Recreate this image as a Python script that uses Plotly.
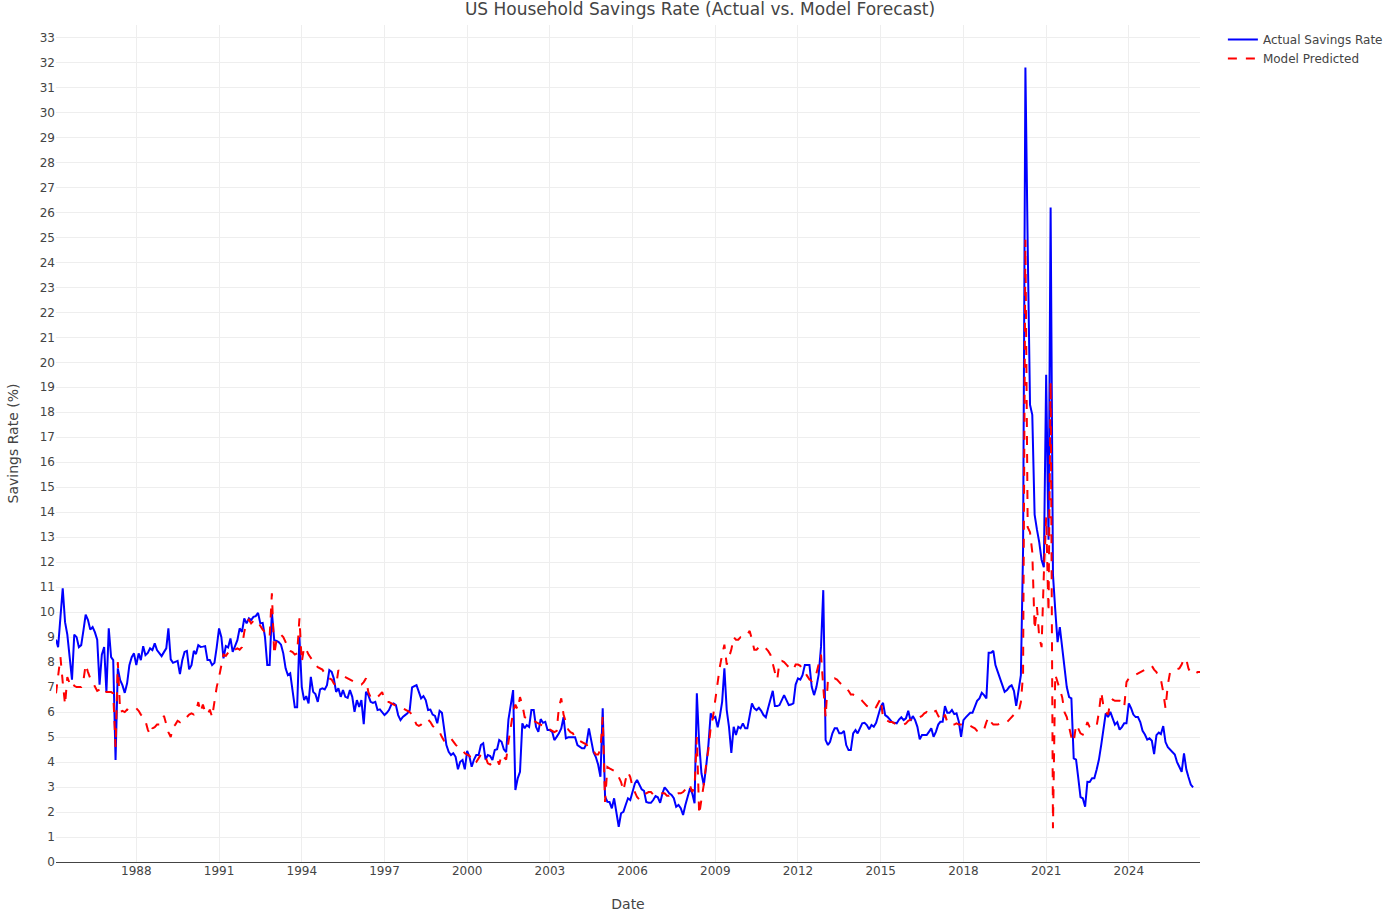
import plotly.graph_objects as go
import pandas as pd

# monthly values, starting Feb 1985
start_month = "1985-02-01"

actual_rate = [
    8.9, 8.6, 9.8, 10.95, 9.6, 9.1, 8.2, 7.3, 9.1, 9.0, 8.6, 8.68,
    9.3, 9.9, 9.68, 9.3, 9.4, 9.2, 8.9, 7.1, 8.3, 8.6, 6.8, 9.35,
    8.2, 8.08, 4.08, 7.75, 7.28, 7.08, 6.77, 7.15, 7.88, 8.2, 8.35, 7.88,
    8.35, 8.08, 8.64, 8.28, 8.37, 8.55, 8.48, 8.75, 8.48, 8.35, 8.24, 8.4,
    8.55, 9.35, 8.11, 7.97, 8.0, 8.05, 7.52, 8.08, 8.41, 8.45, 7.71, 7.88,
    8.45, 8.32, 8.68, 8.61, 8.62, 8.64, 8.08, 8.08, 7.88, 7.97, 8.59, 9.35,
    9.0, 8.15, 8.64, 8.59, 8.95, 8.41, 8.64, 8.88, 9.35, 9.21, 9.75, 9.55,
    9.75, 9.68, 9.81, 9.84, 9.97, 9.55, 9.57, 9.0, 7.88, 7.88, 10.0, 8.88,
    8.85, 8.8, 8.7, 8.35, 7.75, 7.48, 7.55, 6.95, 6.19, 6.19, 9.0, 7.01,
    6.48, 6.64, 6.35, 7.41, 6.81, 6.72, 6.41, 6.91, 6.95, 6.91, 7.08, 7.68,
    7.61, 7.35, 6.81, 6.95, 6.61, 6.88, 6.61, 6.57, 6.88, 6.61, 6.01, 6.48,
    6.21, 6.48, 5.52, 6.81, 6.68, 6.41, 6.37, 6.41, 6.08, 6.11, 6.01, 5.88,
    5.97, 6.08, 6.3, 6.35, 6.28, 5.88, 5.68, 5.81, 5.88, 5.95, 6.08, 6.99,
    7.04, 7.08, 6.81, 6.55, 6.64, 6.48, 6.08, 6.1, 5.9, 5.85, 5.55, 6.05,
    5.97, 5.3, 4.68, 4.41, 4.28, 4.35, 4.21, 3.71, 4.01, 4.08, 3.71, 4.45,
    4.21, 3.81, 4.1, 4.28, 4.28, 4.68, 4.75, 4.1, 4.28, 4.24, 4.08, 4.48,
    4.51, 4.88, 4.81, 4.51, 4.4, 5.7, 6.4, 6.88, 2.88, 3.35, 3.61, 5.55,
    5.35, 5.48, 5.41, 6.08, 6.08, 5.41, 5.21, 5.72, 5.57, 5.61, 5.28, 5.28,
    5.21, 4.88, 5.01, 5.15, 5.35, 5.8, 4.95, 4.99, 4.99, 4.99, 4.99, 4.68,
    4.61, 4.55, 4.55, 4.75, 5.35, 4.81, 4.4, 4.2, 3.9, 3.41, 6.15, 2.61,
    2.41, 2.4, 2.15, 2.55, 1.95, 1.41, 1.95, 2.01, 2.28, 2.55, 2.48, 2.88,
    3.15, 3.28, 3.08, 2.91, 2.85, 2.4, 2.37, 2.37, 2.48, 2.64, 2.59, 2.37,
    2.75, 2.99, 2.88, 2.75, 2.68, 2.55, 2.21, 2.28, 2.15, 1.88, 2.28, 2.61,
    2.95, 2.75, 2.35, 6.75, 4.75, 3.55, 3.08, 3.81, 4.68, 5.95, 5.75, 5.81,
    5.39, 5.81, 6.41, 7.75, 6.08, 5.41, 4.37, 5.41, 5.08, 5.41, 5.35, 5.55,
    5.35, 5.35, 5.88, 6.35, 6.15, 6.08, 6.17, 6.05, 5.88, 5.79, 6.15, 6.48,
    6.85, 6.24, 6.24, 6.28, 6.48, 6.68, 6.48, 6.28, 6.3, 6.35, 7.1, 7.35,
    7.3, 7.48, 7.88, 7.88, 7.88, 7.01, 6.68, 7.0, 7.5, 8.61, 10.88, 4.88,
    4.68, 4.81, 5.15, 5.35, 5.35, 5.15, 5.15, 5.25, 4.68, 4.48, 4.48, 5.15,
    5.28, 5.15, 5.35, 5.55, 5.57, 5.48, 5.31, 5.48, 5.41, 5.57, 5.88, 6.21,
    6.37, 5.88, 5.81, 5.71, 5.6, 5.57, 5.55, 5.7, 5.79, 5.68, 5.75, 6.05,
    5.65, 5.84, 5.68, 5.41, 4.91, 5.08, 5.08, 5.08, 5.21, 5.35, 5.01, 5.21,
    5.5, 5.61, 5.61, 6.24, 5.97, 5.97, 6.08, 5.92, 5.95, 5.61, 5.01, 5.68,
    5.79, 5.88, 5.97, 5.97, 6.21, 6.45, 6.55, 6.77, 6.68, 6.55, 8.37, 8.37,
    8.45, 7.88, 7.61, 7.35, 7.15, 6.81, 6.88, 7.01, 7.07, 6.85, 6.25, 6.95,
    7.48, 12.5, 31.8, 24.7, 18.3, 17.9, 13.9, 13.3, 12.8, 12.1, 11.8, 19.5,
    12.9, 26.2, 11.5, 10.1, 8.8, 9.4, 8.5, 7.6, 7.0, 6.6, 6.55, 4.15,
    4.1, 3.4, 2.6, 2.55, 2.21, 3.21, 3.2, 3.35, 3.35, 3.7, 4.1, 4.7,
    5.3, 5.95, 5.8, 6.01, 5.75, 5.5, 5.6, 5.3, 5.4, 5.55, 5.55, 6.35,
    6.15, 5.9, 5.8, 5.8, 5.6, 5.25, 5.1, 4.9, 4.95, 4.85, 4.32, 5.08,
    5.18, 5.12, 5.44, 4.8, 4.6, 4.5, 4.4, 4.3, 4.0, 3.8, 3.61, 4.35,
    3.7, 3.4, 3.1, 2.99,
]

predicted_rate = [
    6.75, 7.5, 8.2, 7.2, 6.3, 7.4, 7.15, 7.25, 7.05, 7.0, 7.0, 7.0,
    7.3, 7.9, 7.6, 7.35, 7.2, 7.0, 6.85, 6.9, 6.8, 6.9, 6.8, 6.8,
    6.8, 6.75, 4.6, 8.0, 6.0, 6.05, 6.0, 6.1, 6.05, 6.1, 6.15, 6.15,
    6.05, 5.9, 5.8, 5.65, 5.3, 5.1, 5.35, 5.4, 5.5, 5.5, 5.55, 5.85,
    5.45, 5.2, 5.0, 5.4, 5.5, 5.65, 5.6, 5.75, 5.8, 5.8, 5.9, 5.95,
    5.9, 6.0, 6.4, 6.0, 6.3, 6.0, 5.9, 6.1, 5.8, 6.5, 7.0, 7.4,
    7.9, 8.3, 8.25, 8.4, 8.5, 8.45, 8.5, 8.55, 8.5, 8.6, 9.2, 9.6,
    9.7, 9.55, 9.65, 9.7, 9.6, 9.45, 9.3, 9.2, 9.1, 9.0, 10.75, 8.3,
    8.9, 8.95, 9.1, 9.0, 8.8, 8.55, 8.45, 8.4, 8.3, 8.35, 9.75, 8.0,
    8.6, 8.5, 8.3, 8.15, 8.0, 7.9, 7.8, 7.75, 7.7, 7.55, 7.4, 7.35,
    7.3, 7.15, 7.05, 7.68, 7.55, 7.45, 7.4, 7.35, 7.3, 7.25, 7.2, 7.15,
    7.1, 7.1, 7.2, 7.35, 6.8, 6.6, 6.55, 6.55, 6.6, 6.7, 6.8, 6.5,
    6.4, 6.4, 6.35, 6.3, 6.25, 6.2, 6.15, 6.15, 6.1, 6.05, 6.0, 5.9,
    5.7, 5.5, 5.45, 5.5, 5.6, 5.7, 5.7, 5.6, 5.45, 5.35, 5.3, 5.2,
    5.0, 4.85, 4.8, 4.9, 4.95, 4.8, 4.7, 4.6, 4.55, 4.5, 4.35, 4.3,
    4.25, 4.1, 3.95, 4.0, 4.15, 4.3, 4.35, 4.2, 3.95, 3.9, 4.0, 4.05,
    4.1, 3.9, 4.3, 4.2, 4.1, 4.8, 5.5, 6.0, 6.3, 6.1, 6.6, 6.3,
    5.8, 5.75, 5.7, 5.7, 5.65, 5.6, 5.55, 5.5, 5.45, 5.35, 5.3, 5.3,
    5.25, 5.2, 5.25, 6.2, 6.55, 5.9, 5.6, 5.3, 5.2, 5.15, 5.0, 4.9,
    4.85, 4.8, 4.75, 4.7, 4.55, 4.5, 4.45, 4.3, 4.3, 4.5, 5.8, 2.4,
    3.8, 3.75, 3.7, 3.65, 3.6, 3.4, 3.2, 2.85, 3.3, 3.6, 3.4, 3.0,
    2.8, 2.6, 2.5, 2.55, 2.7, 2.75, 2.8, 2.8, 2.7, 2.7, 2.7, 2.75,
    2.75, 2.75, 2.65, 2.65, 2.7, 2.7, 2.7, 2.75, 2.75, 2.8, 2.9, 3.1,
    3.05, 2.8, 3.0, 5.0, 1.9, 2.5, 3.1, 3.9, 4.5, 5.4, 5.8, 6.5,
    7.2, 7.8, 8.3, 8.7, 7.9, 8.2, 8.5, 9.0, 8.9, 8.9, 9.0, 9.0,
    9.0, 9.1, 9.25, 8.9, 8.5, 8.5, 8.6, 8.65, 8.65, 8.55, 8.45, 8.3,
    7.9, 7.6, 7.3, 8.0, 8.05, 8.0, 7.9, 7.8, 7.7, 7.7, 7.9, 7.9,
    7.85, 7.7, 7.6, 7.45, 7.3, 7.25, 7.45, 7.55, 7.9, 8.3, 7.0, 5.8,
    7.3, 7.3, 7.3, 7.35, 7.3, 7.2, 7.1, 7.0, 6.95, 6.85, 6.7, 6.7,
    6.65, 6.6, 6.55, 6.45, 6.35, 6.25, 6.2, 6.15, 6.1, 6.2, 6.4, 6.55,
    5.75, 5.7, 5.65, 5.6, 5.6, 5.55, 5.5, 5.5, 5.5, 5.5, 5.55, 5.65,
    5.7, 5.75, 5.75, 5.75, 5.8, 5.85, 5.95, 6.0, 5.9, 5.95, 6.0, 6.05,
    5.85, 5.7, 5.65, 5.9, 5.6, 5.5, 5.5, 5.5, 5.55, 5.5, 5.5, 5.45,
    5.45, 5.45, 5.45, 5.4, 5.35, 5.25, 5.2, 5.2, 5.3, 5.6, 5.8, 5.6,
    5.5, 5.5, 5.5, 5.55, 5.6, 5.6, 5.6, 5.7, 5.8, 5.9, 5.9, 6.0,
    6.4, 7.5, 24.9, 13.4, 13.2, 12.4, 9.3, 10.2, 9.0, 8.6, 11.5, 13.8,
    10.0, 19.2, 1.35, 7.5, 7.2, 6.9, 6.6, 6.0, 5.8, 5.4, 5.0, 4.8,
    5.5, 5.35, 5.15, 5.1, 5.3, 5.6, 5.4, 5.35, 5.4, 5.45, 6.0, 6.8,
    6.2, 6.0, 5.9, 6.4, 6.5, 6.45, 6.45, 6.45, 6.3, 6.2, 7.2, 7.35,
    7.4, 7.45, 7.5, 7.55, 7.6, 7.65, 7.7, 7.75, 7.8, 7.85, 7.7, 7.6,
    7.4, 7.3, 6.8, 6.15, 7.1, 7.6, 7.65, 7.7, 7.72, 7.75, 7.9, 8.15,
    8.1, 7.75, 7.55, 7.55, 7.55, 7.6, 7.6,
]

actual_dates = pd.date_range(start_month, periods=len(actual_rate), freq="MS")
predicted_dates = pd.date_range(start_month, periods=len(predicted_rate), freq="MS")

fig = go.Figure()

fig.add_trace(go.Scatter(
    x=actual_dates, y=actual_rate,
    mode="lines", name="Actual Savings Rate",
    line=dict(color="blue", width=2),
))

fig.add_trace(go.Scatter(
    x=predicted_dates, y=predicted_rate,
    mode="lines", name="Model Predicted",
    line=dict(color="red", width=2, dash="dash"),
))

fig.update_layout(
    template="none",
    font=dict(family="Verdana, DejaVu Sans, sans-serif", size=12, color="#444"),
    title=dict(
        text="US Household Savings Rate (Actual vs. Model Forecast)",
        y=0.9905, yanchor="middle",
    ),
    xaxis=dict(title="Date", dtick="M36", tick0="1988-01-01", tickformat="%Y"),
    yaxis=dict(title="Savings Rate (%)", dtick=1, range=[0, 33.5]),
    margin=dict(l=56, r=200, t=25, b=50),
    legend=dict(x=1.02, y=1),
)

# let the figure fill the whole window (no default page margin)
fit_page = (
    "document.body.style.margin = '0';"
    "Plotly.Plots.resize(document.getElementById('{plot_id}'));"
)

fig.write_html("out.html", post_script=fit_page, config={"displayModeBar": False})
